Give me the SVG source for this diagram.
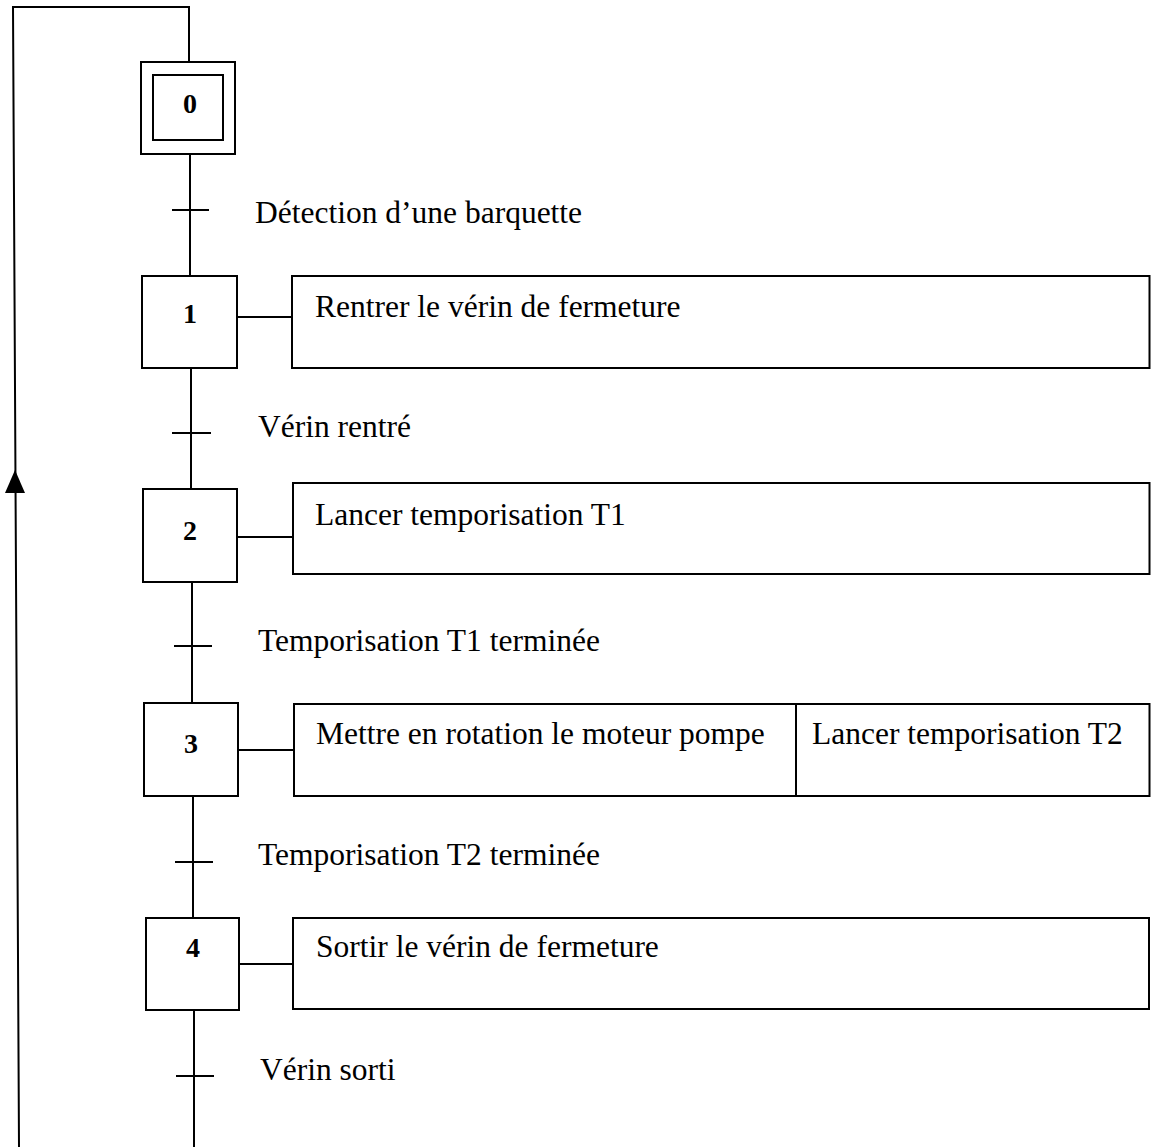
<svg xmlns="http://www.w3.org/2000/svg" width="1151" height="1147" viewBox="0 0 1151 1147">
<style>
.box{fill:#fff;stroke:#000;stroke-width:2}
.ln{fill:none;stroke:#000;stroke-width:2}
.tk{stroke:#000;stroke-width:2}
.t{font-family:"Liberation Serif","Times New Roman",serif;font-size:31.5px;fill:#000}
.n{font-family:"Liberation Serif","Times New Roman",serif;font-size:28px;font-weight:bold;fill:#000;text-anchor:middle}
</style>
<rect width="1151" height="1147" fill="#fff"/>
<g id="connectors">
<polyline class="ln" points="19,1147 13,7 189,7 189,62"/>
<polygon points="15,470 25,493 5,493" fill="#000"/>
<line class="ln" x1="190" y1="154" x2="190" y2="276"/>
<line class="ln" x1="191" y1="368" x2="191" y2="489"/>
<line class="ln" x1="192" y1="582" x2="192" y2="703"/>
<line class="ln" x1="193" y1="796" x2="193" y2="918"/>
<line class="ln" x1="194" y1="1010" x2="194" y2="1147"/>
<line class="ln" x1="237" y1="317" x2="292" y2="317"/>
<line class="ln" x1="237" y1="537" x2="293" y2="537"/>
<line class="ln" x1="238" y1="750" x2="294" y2="750"/>
<line class="ln" x1="239" y1="964" x2="293" y2="964"/>
</g>
<g id="transitions">
<line class="tk" x1="172" y1="210" x2="209" y2="210"/>
<text class="t" x="255" y="223">Détection d’une barquette</text>
<line class="tk" x1="172" y1="433" x2="211" y2="433"/>
<text class="t" x="258" y="437">Vérin rentré</text>
<line class="tk" x1="174" y1="646" x2="212" y2="646"/>
<text class="t" x="258" y="651">Temporisation T1 terminée</text>
<line class="tk" x1="175" y1="862" x2="213" y2="862"/>
<text class="t" x="258" y="865">Temporisation T2 terminée</text>
<line class="tk" x1="176" y1="1076" x2="214" y2="1076"/>
<text class="t" x="260" y="1080">Vérin sorti</text>
</g>
<g id="step0">
<rect class="box" x="141" y="62" width="94" height="92"/>
<rect class="box" x="153" y="75" width="70" height="65"/>
<text class="n" x="190" y="113">0</text>
</g>
<g id="step1">
<rect class="box" x="142" y="276" width="95" height="92"/>
<text class="n" x="190" y="323">1</text>
</g>
<g id="action1">
<rect class="box" x="292" y="276" width="857.5" height="92"/>
<text class="t" x="315" y="317">Rentrer le vérin de fermeture</text>
</g>
<g id="step2">
<rect class="box" x="143" y="489" width="94" height="93"/>
<text class="n" x="190" y="540">2</text>
</g>
<g id="action2">
<rect class="box" x="293" y="483" width="856.5" height="91"/>
<text class="t" x="315" y="525">Lancer temporisation T1</text>
</g>
<g id="step3">
<rect class="box" x="144" y="703" width="94" height="93"/>
<text class="n" x="191" y="753">3</text>
</g>
<g id="action3">
<rect class="box" x="294" y="704" width="855.5" height="92"/>
<line class="ln" x1="796" y1="704" x2="796" y2="796"/>
<text class="t" x="316" y="744">Mettre en rotation le moteur pompe</text>
<text class="t" x="812" y="744">Lancer temporisation T2</text>
</g>
<g id="step4">
<rect class="box" x="146" y="918" width="93" height="92"/>
<text class="n" x="193" y="957">4</text>
</g>
<g id="action4">
<rect class="box" x="293" y="918" width="856" height="91"/>
<text class="t" x="316" y="957">Sortir le vérin de fermeture</text>
</g>
</svg>
